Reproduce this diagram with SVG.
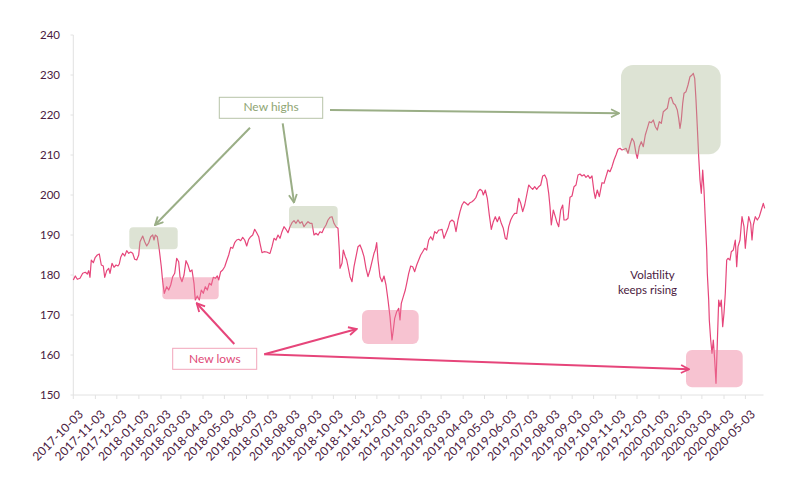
<svg xmlns="http://www.w3.org/2000/svg" width="801" height="491" viewBox="0 0 801 491">
<defs>
<style>
.ax{stroke:#e2e2e2;stroke-width:1;fill:none}
.tk{stroke:#e2e2e2;stroke-width:1}
.yl{font-family:Lato,"Liberation Sans",sans-serif;font-size:11.5px;fill:#4a1a3e;text-anchor:end}
.xl{font-family:Lato,"Liberation Sans",sans-serif;font-size:12px;letter-spacing:0.1px;fill:#4a1a3e;text-anchor:end}
.line{fill:none;stroke:#e6457a;stroke-width:1.2;stroke-linejoin:round}
.gbox{fill:#a9b894;fill-opacity:0.4}
.pbox{fill:#ee7a9a;fill-opacity:0.45}
.garr{stroke:#9aae86;stroke-width:2;fill:none}
.parr{stroke:#e6457a;stroke-width:2;fill:none}
.lbl{font-family:Lato,"Liberation Sans",sans-serif;font-size:12px;text-anchor:middle}
.note{font-family:Lato,"Liberation Sans",sans-serif;font-size:11.5px;fill:#4a1a3e;text-anchor:middle}
</style>
<marker id="ga" viewBox="0 0 10 10" refX="9" refY="5" markerWidth="10" markerHeight="10" markerUnits="userSpaceOnUse" orient="auto"><path d="M1,1 L9,5 L1,9" fill="none" stroke="#9aae86" stroke-width="1.8"/></marker>
<marker id="pa" viewBox="0 0 10 10" refX="9" refY="5" markerWidth="10" markerHeight="10" markerUnits="userSpaceOnUse" orient="auto"><path d="M1,1 L9,5 L1,9" fill="none" stroke="#e6457a" stroke-width="1.8"/></marker>
</defs>
<rect width="801" height="491" fill="#ffffff"/>
<g id="axes">
<path class="ax" d="M73.3,35 V395 H763.5"/>
<g class="tk">
<line x1="70.5" y1="35" x2="73.3" y2="35"/><line x1="70.5" y1="75" x2="73.3" y2="75"/><line x1="70.5" y1="115" x2="73.3" y2="115"/><line x1="70.5" y1="155" x2="73.3" y2="155"/><line x1="70.5" y1="195" x2="73.3" y2="195"/><line x1="70.5" y1="235" x2="73.3" y2="235"/><line x1="70.5" y1="275" x2="73.3" y2="275"/><line x1="70.5" y1="315" x2="73.3" y2="315"/><line x1="70.5" y1="355" x2="73.3" y2="355"/><line x1="70.5" y1="395" x2="73.3" y2="395"/>
</g>
<g class="yl">
<text x="60" y="39">240</text><text x="60" y="79">230</text><text x="60" y="119">220</text><text x="60" y="159">210</text><text x="60" y="199">200</text><text x="60" y="239">190</text><text x="60" y="279">180</text><text x="60" y="319">170</text><text x="60" y="359">160</text><text x="60" y="399">150</text>
</g>
<g class="tk">
<line x1="73.3" y1="395" x2="73.3" y2="399"/><line x1="95.4" y1="395" x2="95.4" y2="399"/><line x1="116.8" y1="395" x2="116.8" y2="399"/><line x1="138.9" y1="395" x2="138.9" y2="399"/><line x1="161" y1="395" x2="161" y2="399"/><line x1="180.9" y1="395" x2="180.9" y2="399"/><line x1="203" y1="395" x2="203" y2="399"/><line x1="224.4" y1="395" x2="224.4" y2="399"/><line x1="246.5" y1="395" x2="246.5" y2="399"/><line x1="267.9" y1="395" x2="267.9" y2="399"/><line x1="290" y1="395" x2="290" y2="399"/><line x1="312.1" y1="395" x2="312.1" y2="399"/><line x1="333.4" y1="395" x2="333.4" y2="399"/><line x1="355.5" y1="395" x2="355.5" y2="399"/><line x1="376.9" y1="395" x2="376.9" y2="399"/><line x1="399" y1="395" x2="399" y2="399"/><line x1="421.1" y1="395" x2="421.1" y2="399"/><line x1="441.1" y1="395" x2="441.1" y2="399"/><line x1="463.2" y1="395" x2="463.2" y2="399"/><line x1="484.5" y1="395" x2="484.5" y2="399"/><line x1="506.6" y1="395" x2="506.6" y2="399"/><line x1="528" y1="395" x2="528" y2="399"/><line x1="550.1" y1="395" x2="550.1" y2="399"/><line x1="572.2" y1="395" x2="572.2" y2="399"/><line x1="593.6" y1="395" x2="593.6" y2="399"/><line x1="615.7" y1="395" x2="615.7" y2="399"/><line x1="637" y1="395" x2="637" y2="399"/><line x1="659.1" y1="395" x2="659.1" y2="399"/><line x1="681.2" y1="395" x2="681.2" y2="399"/><line x1="701.9" y1="395" x2="701.9" y2="399"/><line x1="724" y1="395" x2="724" y2="399"/><line x1="745.4" y1="395" x2="745.4" y2="399"/>
</g>
<g class="xl">
<text transform="translate(84,415) rotate(-45)">2017-10-03</text>
<text transform="translate(106.1,415) rotate(-45)">2017-11-03</text>
<text transform="translate(127.5,415) rotate(-45)">2017-12-03</text>
<text transform="translate(149.6,415) rotate(-45)">2018-01-03</text>
<text transform="translate(171.7,415) rotate(-45)">2018-02-03</text>
<text transform="translate(191.6,415) rotate(-45)">2018-03-03</text>
<text transform="translate(213.7,415) rotate(-45)">2018-04-03</text>
<text transform="translate(235.1,415) rotate(-45)">2018-05-03</text>
<text transform="translate(257.2,415) rotate(-45)">2018-06-03</text>
<text transform="translate(278.6,415) rotate(-45)">2018-07-03</text>
<text transform="translate(300.7,415) rotate(-45)">2018-08-03</text>
<text transform="translate(322.8,415) rotate(-45)">2018-09-03</text>
<text transform="translate(344.1,415) rotate(-45)">2018-10-03</text>
<text transform="translate(366.2,415) rotate(-45)">2018-11-03</text>
<text transform="translate(387.6,415) rotate(-45)">2018-12-03</text>
<text transform="translate(409.7,415) rotate(-45)">2019-01-03</text>
<text transform="translate(431.8,415) rotate(-45)">2019-02-03</text>
<text transform="translate(451.8,415) rotate(-45)">2019-03-03</text>
<text transform="translate(473.9,415) rotate(-45)">2019-04-03</text>
<text transform="translate(495.2,415) rotate(-45)">2019-05-03</text>
<text transform="translate(517.3,415) rotate(-45)">2019-06-03</text>
<text transform="translate(538.7,415) rotate(-45)">2019-07-03</text>
<text transform="translate(560.8,415) rotate(-45)">2019-08-03</text>
<text transform="translate(582.9,415) rotate(-45)">2019-09-03</text>
<text transform="translate(604.3,415) rotate(-45)">2019-10-03</text>
<text transform="translate(626.4,415) rotate(-45)">2019-11-03</text>
<text transform="translate(647.7,415) rotate(-45)">2019-12-03</text>
<text transform="translate(669.8,415) rotate(-45)">2020-01-03</text>
<text transform="translate(691.9,415) rotate(-45)">2020-02-03</text>
<text transform="translate(712.6,415) rotate(-45)">2020-03-03</text>
<text transform="translate(734.7,415) rotate(-45)">2020-04-03</text>
<text transform="translate(756.1,415) rotate(-45)">2020-05-03</text>
</g>
</g>
<g id="series">
<polyline class="line" points="73.3,280 75.3,276 77.3,279.3 80,278.3 82.7,273.3 85.3,272.3 87.3,274 88.7,270.7 90,277.3 91.3,260 93.3,262.7 95.3,257.3 97.3,255 99.3,254 101.3,265 103.3,266 104.7,277.3 106.7,270.7 108.7,268.3 110,273.3 112,263.3 114,267.3 116,265 118,266 119.3,264 120.7,257.3 122.7,253.3 124.7,256 126.7,250.7 128.7,253.3 130.7,252 132.7,253.3 134.7,259.3 136.7,260 138.7,255 140,241.7 142.7,236 144.7,241.7 146.7,246 148.7,242.7 150.7,236.7 152.7,235 154,240 155.3,235 157.3,236.7 159.3,250 161.3,266.7 162.7,281.7 164.3,293.3 166.7,286.7 168.7,290 170.7,285 172.7,276.7 174.7,273.3 176.7,258.3 178.7,261.7 180,276.7 182,281.7 184,275 186,260.7 188,265 190,271.7 192,270 194,283.3 195.3,300 197.3,296 199.3,300 201.3,290 203.3,293.3 205.3,286.7 207.3,290 209.3,283.3 211.3,285 213.3,277.3 215.3,278.3 217.3,276 218.7,280 220.7,271.7 222.7,270 224.7,266.7 226.7,260.7 228.7,255 230.7,247.3 232.7,248.3 234.7,242.7 236.7,240 238.7,239.3 240.7,240.7 242.7,237.3 244.7,240 246.7,246 248.7,239.3 250.7,236.7 252.7,235 254.7,229.3 256.7,232.7 258.7,236.7 260,243.3 262,252.7 264,251.7 266.7,252 269.3,253.3 270,253.3 272,246.7 274,238.3 276,240 278,235 280,238.3 282,231.7 284,226.7 286,229.3 288,232.7 290,226.7 292,222.7 294,220.7 296,223.3 298,220 300,223.3 302,221.7 304,226.7 306,224 308,221.7 310,223.3 312,223.3 314,235 316,233.3 318,235 320,231.7 322,232.7 324,228.3 326,225 328,220 330,217.3 332,216.7 334,223.3 336,226.7 338,228.3 339.3,250 340,268.3 342,263.3 343.3,250 345.3,256.7 346.7,260 348.7,270 350,276.7 352,281.7 354,266.7 356,256.7 358,246.7 360,245 362,250 364,256.7 366,268.3 368,276.7 370,270 372,261.7 374,253.3 375.3,250 376.7,242.7 378,260 380,276.7 382,281.7 384,276 386,285 388,300 390,316.7 392,340 393.3,330 394.7,318.3 396.7,311.7 398.7,308.3 400,320 401.3,303.3 403.3,296.7 405.3,290 406.7,283.3 408.7,273.3 410.7,266 412.7,266.7 414.7,271.7 416.7,265 418.7,260 420.7,255 422.7,251.7 424.7,248.3 426.7,250 428.7,240 430.7,236.7 432.7,240 434.7,231.7 436.7,233.3 438.7,230 440,230 442,229.3 444,238.3 446,233.3 448,228.3 450,221.7 452,220 454,221.7 456,231.7 458,220 460,211.7 462,205 464,201.7 466,203.3 468,205 470,202.7 472,201.7 474,200 476,197.3 478,191.7 480,189.3 482,190.7 483.3,195 485.3,190 487.3,198.3 489.3,215 491.3,229.3 493.3,221.7 495.3,216.7 497.3,221.7 499.3,216.7 501.3,223.3 503.3,228.3 505.3,238.3 506.7,239.3 508.7,226.7 510.7,220 512.7,216 514.7,213.3 516.7,213.3 518.7,198.3 520.7,203.3 522.7,211.7 524.7,205 526.7,195 528.7,185 530.7,187.3 532.7,189.3 534.7,186.7 536.7,189.3 538.7,186.7 540.7,185 542.7,176 544.7,175 546.7,179.3 548.7,193.3 550,206.7 551.3,225 553.3,210 555.3,216.7 556.7,221.7 558.7,226.7 560.7,210 562.7,205 564,220 566,220 568,218.3 570,197.3 572,196 574,186.7 576,185 578,175 580,174 582,176 584,174.7 586,177.3 588,175.3 590,178.3 592,176 594,191.7 595.3,198.3 597.3,190 599.3,196.7 602,182.7 604,183.3 606,176.7 608,170 610,171.7 612,166.7 614,160 616,155 618,149.3 620,148.3 622,150 624,149.3 626,148.3 628,153.3 630,145 632,138.3 634,141.7 636,153.3 637.3,158.3 639.3,146.7 641.3,141.7 643.3,146.7 645.3,135 647.3,128.3 649.3,121.7 651.3,122.7 653.3,120 655.3,126.7 657.3,130 659.3,121.7 661.3,123.3 663.3,111.7 665.3,110 667.3,108.3 669.3,98.3 671.3,97.3 673.3,103.3 675.3,105 677.3,110 678.7,118.3 680,128.3 681.3,120 682.7,103.3 684,93.3 686,91.7 688,85 690,76.7 692,75 693.3,73.3 694.7,78.3 696,100 697.3,126.7 698.7,156.7 700,180 701.3,193.3 702.7,170 704,190 705.3,220 706.7,250 707.3,273.3 708.7,300 709.3,320 710.7,340 712,353.3 713.3,340 714.7,360 716,383.3 717.3,343.3 718.7,300 720,306.7 721.3,300 722.7,326.7 724,313.3 725.3,293.3 726.7,260 728,258.3 730,260 731.3,251.7 733.3,250 735.3,240 736.7,266.7 738,246.7 740,240 742,216.7 744,226.7 745.3,248.3 746.7,233.3 748.7,216.7 750.7,223.3 752,240 753.3,225 755.3,216.7 757.3,220 759.3,216.7 761.3,210 763.3,203.3 764.7,208.3"/>
</g>
<g id="highlight-highs">
<rect class="gbox" x="129.3" y="227.3" width="48.4" height="22" rx="4"/>
<rect class="gbox" x="289" y="206" width="48.7" height="22.3" rx="4"/>
<rect class="gbox" x="621" y="65" width="99.7" height="89.3" rx="12"/>
</g>
<g id="highlight-lows">
<rect class="pbox" x="162.3" y="277.3" width="56.4" height="22" rx="4"/>
<rect class="pbox" x="362" y="310" width="56.7" height="34" rx="6"/>
<rect class="pbox" x="686" y="350" width="56.7" height="37.3" rx="6"/>
</g>
<g id="connectors">
<line class="garr" x1="250" y1="127.7" x2="155" y2="225" marker-end="url(#ga)"/>
<line class="garr" x1="282.7" y1="123.3" x2="294" y2="202.5" marker-end="url(#ga)"/>
<line class="garr" x1="330" y1="110" x2="619" y2="113.3" marker-end="url(#ga)"/>
<line class="parr" x1="234.3" y1="344" x2="196.7" y2="303.3" marker-end="url(#pa)"/>
<line class="parr" x1="264.3" y1="354.3" x2="356.7" y2="329" marker-end="url(#pa)"/>
<line class="parr" x1="264.3" y1="354.3" x2="689" y2="369.3" marker-end="url(#pa)"/>
</g>
<g id="label-new-highs">
<rect x="219.3" y="97.3" width="103.4" height="21" fill="#ffffff" stroke="#b7c4a8" stroke-width="1"/>
<text class="lbl" x="271" y="111.3" fill="#8fa574">New highs</text>
</g>
<g id="label-new-lows">
<rect x="172.7" y="348.3" width="84" height="21" fill="#ffffff" stroke="#f2a5bb" stroke-width="1"/>
<text class="lbl" x="214.8" y="363.3" fill="#e04a78">New lows</text>
</g>
<g id="note-volatility">
<text class="note" x="652.5" y="279">Volatility</text>
<text class="note" x="647.5" y="293.5">keeps rising</text>
</g>
</svg>
